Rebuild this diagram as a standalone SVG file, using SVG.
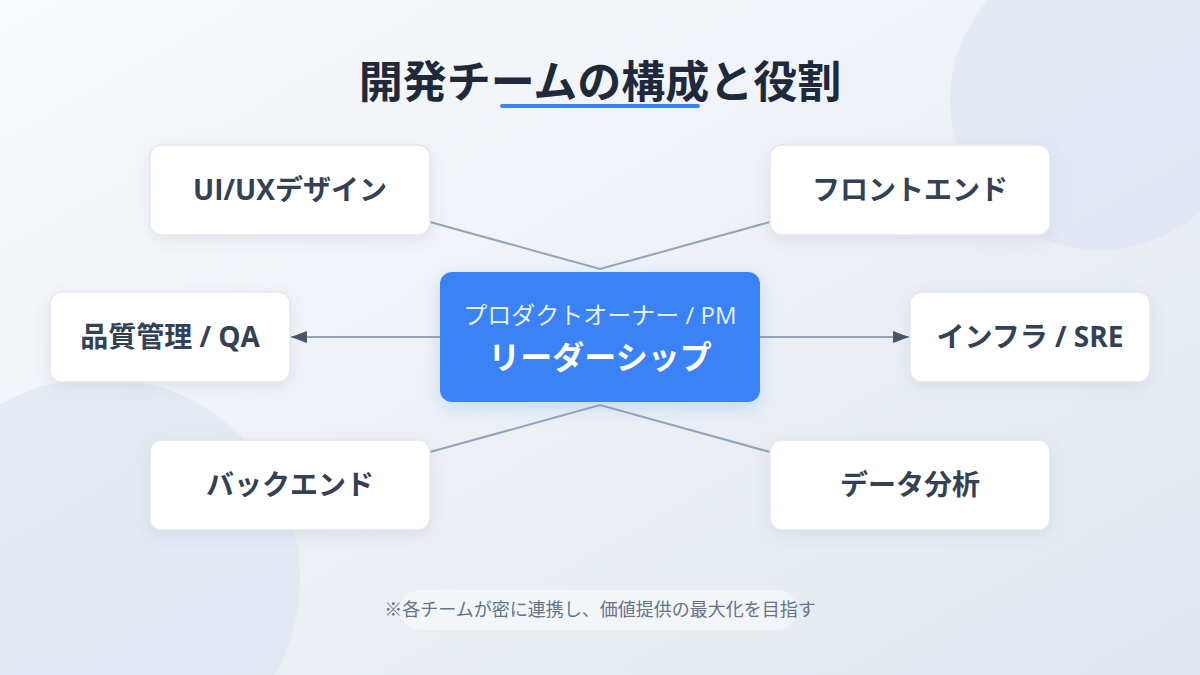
<svg xmlns="http://www.w3.org/2000/svg" width="1200" height="675" viewBox="0 0 1200 675">
  <defs>
    <linearGradient id="bg" x1="0" y1="0" x2="1" y2="1">
      <stop offset="0" stop-color="#f8fafc"/>
      <stop offset="1" stop-color="#e2e8f0"/>
    </linearGradient>
    <filter id="shadow" x="-20%" y="-30%" width="140%" height="170%">
      <feDropShadow dx="0" dy="4" stdDeviation="7" flood-color="#64748b" flood-opacity="0.14"/>
    </filter>
    <filter id="shadowBlue" x="-20%" y="-30%" width="140%" height="170%">
      <feDropShadow dx="0" dy="6" stdDeviation="9" flood-color="#3b82f6" flood-opacity="0.22"/>
    </filter>
    <marker id="arrow" viewBox="0 0 16 12" refX="16" refY="6" markerWidth="16" markerHeight="12" markerUnits="userSpaceOnUse" orient="auto">
      <path d="M0,0 L16,6 L0,12 Z" fill="#475569"/>
    </marker>
    <style>
      .node rect { fill: #ffffff; stroke: #e2e8f0; stroke-width: 1.5; }
      .label { font-family: "Open Sans", "Noto Sans CJK JP", sans-serif; font-weight: 700; font-size: 28px; fill: #334155; text-anchor: middle; }
      .conn { stroke: #94a3b8; stroke-width: 2; fill: none; }
      .arr { stroke: #94a3b8; stroke-width: 2; fill: none; marker-end: url(#arrow); }
      .jp { font-family: "Open Sans", "Noto Sans CJK JP", sans-serif; text-anchor: middle; }
    </style>
  </defs>

  <rect width="1200" height="675" fill="url(#bg)"/>
  <circle cx="1100" cy="100" r="150" fill="#dbe4f2" opacity="0.55"/>
  <circle cx="100" cy="578" r="200" fill="#dbe4f2" opacity="0.55"/>

  <g id="title">
    <text class="jp" x="600" y="98" font-weight="700" font-size="44" fill="#1e293b">開発チームの構成と役割</text>
    <line x1="502" y1="106" x2="698" y2="106" stroke="#3b82f6" stroke-width="4" stroke-linecap="round"/>
  </g>

  <g id="connectors">
    <polyline class="conn" points="430,222 600,269 770,222"/>
    <polyline class="conn" points="430,452 600,405 770,452"/>
    <line class="arr" x1="440" y1="337" x2="291" y2="337"/>
    <line class="arr" x1="760" y1="337" x2="909" y2="337"/>
  </g>

  <g id="node-uiux" class="node">
    <rect x="150" y="145" width="280" height="90" rx="12" filter="url(#shadow)"/>
    <text class="label" x="290" y="200">UI/UXデザイン</text>
  </g>
  <g id="node-frontend" class="node">
    <rect x="770" y="145" width="280" height="90" rx="12" filter="url(#shadow)"/>
    <text class="label" x="910" y="200">フロントエンド</text>
  </g>
  <g id="node-qa" class="node">
    <rect x="50" y="292" width="240" height="90" rx="12" filter="url(#shadow)"/>
    <text class="label" x="170" y="347">品質管理 / QA</text>
  </g>
  <g id="node-infra" class="node">
    <rect x="910" y="292" width="240" height="90" rx="12" filter="url(#shadow)"/>
    <text class="label" x="1030" y="347">インフラ / SRE</text>
  </g>
  <g id="node-backend" class="node">
    <rect x="150" y="440" width="280" height="90" rx="12" filter="url(#shadow)"/>
    <text class="label" x="290" y="495">バックエンド</text>
  </g>
  <g id="node-data" class="node">
    <rect x="770" y="440" width="280" height="90" rx="12" filter="url(#shadow)"/>
    <text class="label" x="910" y="495">データ分析</text>
  </g>

  <g id="node-leader">
    <rect x="440" y="272" width="320" height="130" rx="12" fill="#3b82f6" filter="url(#shadowBlue)"/>
    <text class="jp" x="600" y="324" font-weight="400" font-size="24" fill="#ffffff" fill-opacity="0.9">プロダクトオーナー / PM</text>
    <text class="jp" x="600" y="369" font-weight="700" font-size="32" fill="#ffffff">リーダーシップ</text>
  </g>

  <g id="footer">
    <rect x="400" y="590" width="397" height="40" rx="20" fill="#ffffff" opacity="0.45"/>
    <text class="jp" x="600" y="616" font-size="18" fill="#64748b">※各チームが密に連携し、価値提供の最大化を目指す</text>
  </g>
</svg>
